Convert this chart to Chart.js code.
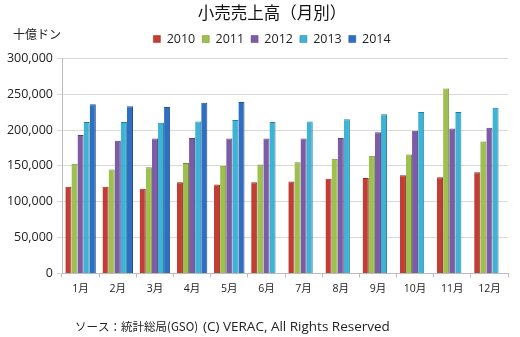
<!DOCTYPE html>
<html>
<head>
<meta charset="utf-8">
<script src="https://cdn.jsdelivr.net/npm/chart.js@4/dist/chart.umd.min.js"></script>
<style>
  html, body { margin: 0; padding: 0; background: #fff; }
  #wrap { width: 520px; height: 337px; position: relative; }
</style>
</head>
<body>
<div id="wrap"><canvas id="salesChart" width="520" height="337"></canvas></div>
<script>
// --- Data ---
const months = ['1月', '2月', '3月', '4月', '5月', '6月', '7月', '8月', '9月', '10月', '11月', '12月'];
const sales2010 = [121000, 121000, 118000, 127000, 124000, 127000, 128000, 132000, 133000, 137000, 134000, 141000];
const sales2011 = [153000, 145000, 148000, 154000, 150000, 152000, 155000, 160000, 164000, 166000, 258000, 184000];
const sales2012 = [193000, 185000, 188000, 189000, 188000, 188000, 188000, 189000, 197000, 199000, 202000, 203000];
const sales2013 = [211000, 211000, 210000, 212000, 214000, 211000, 212000, 215000, 222000, 225000, 225000, 231000];
const sales2014 = [236000, 233000, 232000, 238000, 239000, null, null, null, null, null, null, null];
const yTicks = [0, 50000, 100000, 150000, 200000, 250000, 300000];

const fontFamily = "'Open Sans', 'Noto Sans CJK JP', sans-serif";
const jpFont = "'Noto Sans CJK JP', sans-serif";

// extra text: unit label and source line
const notesPlugin = {
    id: 'notes',
    beforeInit(chart) {
        // a bit more room under the legend
        const fit = chart.legend.fit;
        chart.legend.fit = function () {
            fit.bind(chart.legend)();
            this.height += 3;
        };
    },
    beforeDraw(chart) {
        // y labels are wider than the narrowed axis box, don't clip them
        chart.scales.y._computeLabelArea = () => undefined;
    },
    afterDraw(chart) {
        const ctx = chart.ctx;
        ctx.save();
        ctx.fillStyle = '#222';
        ctx.textBaseline = 'middle';
        ctx.textAlign = 'left';
        ctx.font = "12px " + jpFont;
        ctx.fillText('十億ドン', 13, 34);
        ctx.font = "11.5px " + jpFont;
        ctx.fillText('ソース：統計総局(GSO)', 75, 327);
        ctx.font = "13.5px " + fontFamily;
        ctx.fillText('(C) VERAC, All Rights Reserved', 203, 327);
        ctx.restore();
    }
};

const mkSet = (label, data, color, border) => ({
    label: label,
    data: data,
    backgroundColor: color,
    borderColor: border,
    borderWidth: { right: 1, top: 1 },
    borderSkipped: 'bottom'
});

new Chart(document.getElementById('salesChart'), {
    type: 'bar',
    data: {
        labels: months,
        datasets: [
            mkSet('2010', sales2010, '#C23D33', '#8E2A25'),
            mkSet('2011', sales2011, '#9DC04F', '#6F8C30'),
            mkSet('2012', sales2012, '#7D5CA7', '#573F7A'),
            mkSet('2013', sales2013, '#3FB3D5', '#22809C'),
            mkSet('2014', sales2014, '#2F6FC1', '#20508E')
        ]
    },
    options: {
        responsive: false,
        animation: false,
        devicePixelRatio: 1,
        layout: { padding: { left: 36, right: 12, top: 0, bottom: 37 } },
        datasets: { bar: { categoryPercentage: 0.82, barPercentage: 1.0 } },
        plugins: {
            title: {
                display: true,
                text: '小売売上高（月別）',
                color: '#111',
                font: { family: jpFont, size: 16.5, weight: 'normal' },
                padding: { top: 3, bottom: 3 }
            },
            legend: {
                position: 'top',
                labels: {
                    boxWidth: 7,
                    boxHeight: 7,
                    padding: 7,
                    color: '#222',
                    font: { family: fontFamily, size: 12.5 }
                }
            },
            tooltip: { enabled: false }
        },
        scales: {
            x: {
                grid: { drawOnChartArea: false, color: '#bbb', tickLength: 4 },
                border: { color: '#bbb' },
                ticks: { color: '#222', font: { family: fontFamily, size: 10.5 }, padding: 5, maxRotation: 0, autoSkip: false }
            },
            y: {
                min: 0,
                max: 300000,
                afterFit: (axis) => { axis.width = 26; },
                afterBuildTicks: (axis) => { axis.ticks = yTicks.map(v => ({ value: v })); },
                grid: { color: '#d9d9d9', tickLength: 5 },
                border: { color: '#bbb' },
                ticks: {
                    color: '#222',
                    font: { family: fontFamily, size: 12.5 },
                    padding: 4,
                    callback: (v) => v.toLocaleString('en-US')
                }
            }
        }
    },
    plugins: [notesPlugin]
});
</script>
</body>
</html>
